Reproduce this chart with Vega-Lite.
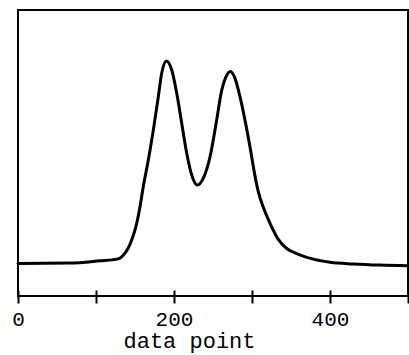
{
  "$schema": "https://vega.github.io/schema/vega-lite/v6.json",
  "width": 390,
  "height": 286,
  "autosize": "none",
  "padding": {"left": 18, "top": 10, "right": 1, "bottom": 59},
  "background": "white",
  "config": {
    "view": {"stroke": "black", "strokeWidth": 2},
    "font": "Liberation Mono"
  },
  "data": {
    "values": [
      {"point": 0, "intensity": 11.4},
      {"point": 66.7, "intensity": 11.5},
      {"point": 105.1, "intensity": 12.3},
      {"point": 126.9, "intensity": 12.9},
      {"point": 131.5, "intensity": 13.4},
      {"point": 137.2, "intensity": 15.0},
      {"point": 141.0, "intensity": 16.6},
      {"point": 145.8, "intensity": 19.6},
      {"point": 152.2, "intensity": 25.4},
      {"point": 156.4, "intensity": 31.2},
      {"point": 160.6, "intensity": 38.2},
      {"point": 167.1, "intensity": 47.6},
      {"point": 173.5, "intensity": 58.0},
      {"point": 179.9, "intensity": 69.7},
      {"point": 184.2, "intensity": 77.9},
      {"point": 190.4, "intensity": 82.2},
      {"point": 197.1, "intensity": 79.0},
      {"point": 203.5, "intensity": 70.9},
      {"point": 209.9, "intensity": 60.4},
      {"point": 216.3, "intensity": 49.9},
      {"point": 222.7, "intensity": 42.3},
      {"point": 229.9, "intensity": 38.8},
      {"point": 237.6, "intensity": 41.2},
      {"point": 246.2, "intensity": 48.7},
      {"point": 254.7, "intensity": 61.5},
      {"point": 261.2, "intensity": 72.0},
      {"point": 266.7, "intensity": 76.7},
      {"point": 272.4, "intensity": 78.5},
      {"point": 278.2, "intensity": 76.1},
      {"point": 284.6, "intensity": 69.7},
      {"point": 291.0, "intensity": 61.5},
      {"point": 297.4, "intensity": 52.2},
      {"point": 303.8, "intensity": 42.0},
      {"point": 308.3, "intensity": 36.2},
      {"point": 314.5, "intensity": 31.0},
      {"point": 323.1, "intensity": 25.4},
      {"point": 333.7, "intensity": 19.8},
      {"point": 344.5, "intensity": 16.6},
      {"point": 357.3, "intensity": 14.8},
      {"point": 370.1, "intensity": 13.5},
      {"point": 400.0, "intensity": 11.8},
      {"point": 430.0, "intensity": 11.2},
      {"point": 464.1, "intensity": 10.8},
      {"point": 500.0, "intensity": 10.6}
    ]
  },
  "mark": {"type": "line", "color": "black", "strokeWidth": 3, "interpolate": "monotone", "strokeCap": "round", "strokeJoin": "round"},
  "encoding": {
    "x": {
      "field": "point",
      "type": "quantitative",
      "scale": {"domain": [0, 500], "nice": false, "zero": false},
      "axis": {
        "title": "data point",
        "values": [0, 100, 200, 300, 400, 500],
        "labelExpr": "datum.value % 200 === 0 ? datum.label : ''",
        "domain": false,
        "grid": false,
        "offset": -6,
        "ticks": true,
        "tickSize": 13,
        "tickWidth": 2,
        "tickColor": "black",
        "labelFont": "Liberation Mono",
        "labelFontSize": 21,
        "labelColor": "black",
        "labelPadding": 5,
        "labelFlush": false,
        "labelOverlap": false,
        "titleFont": "Liberation Mono",
        "titleFontSize": 22,
        "titleFontWeight": "normal",
        "titleColor": "black",
        "titleX": 171,
        "titleY": 57,
        "titleBaseline": "alphabetic",
        "titleAlign": "center"
      }
    },
    "y": {
      "field": "intensity",
      "type": "quantitative",
      "scale": {"domain": [0, 100], "nice": false, "zero": false},
      "axis": null
    }
  }
}
